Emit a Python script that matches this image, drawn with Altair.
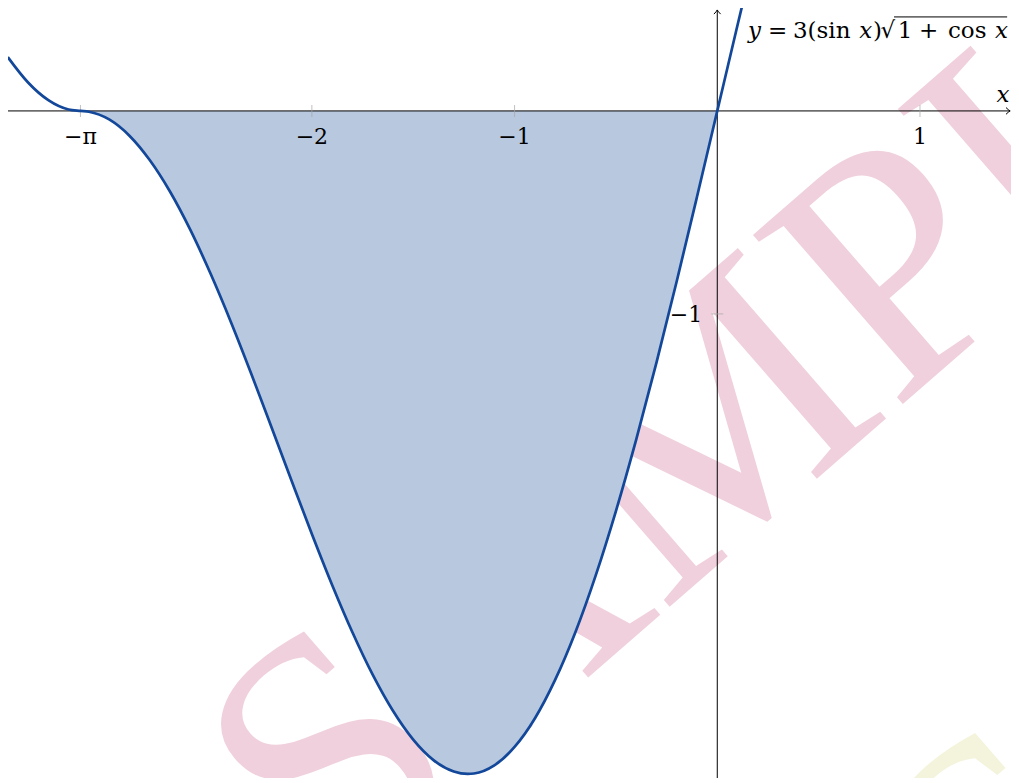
import altair as alt
import pandas as pd

# ---- curve values ----
curve_x = [-3.5, -3.4, -3.3, -3.2, -3.1416, -3.1, -3.0, -2.9, -2.8, -2.7, -2.6, -2.5, -2.4,
           -2.3, -2.2, -2.1, -2.0, -1.9, -1.8, -1.7, -1.6, -1.5, -1.4, -1.3, -1.231, -1.2,
           -1.1, -1.0, -0.9, -0.8, -0.7, -0.6, -0.5, -0.4, -0.3, -0.2, -0.1, 0.0, 0.1, 0.15]
curve_y = [0.265, 0.140, 0.053, 0.007, 0.0, -0.004, -0.042, -0.122, -0.242, -0.397, -0.585,
           -0.801, -1.038, -1.292, -1.556, -1.822, -2.084, -2.335, -2.568, -2.777, -2.955,
           -3.097, -3.198, -3.254, -3.266, -3.264, -3.224, -3.133, -2.993, -2.803, -2.568,
           -2.289, -1.971, -1.619, -1.240, -0.839, -0.423, 0.0, 0.423, 0.632]

# ---- axis ticks and labels ----
xtick_vals = [-3.1416, -2.0, -1.0, 1.0]
xtick_text = ["\u2212\u03c0", "\u22122", "\u22121", "1"]
ytick_vals = [-1.0]
ytick_text = ["\u22121"]

# ---- formula label pieces ----
lab_text = ["y", "=", "3(sin", "x", ")", "\u221a", "1", "+", "cos", "x"]
lab_x = [0.151, 0.250, 0.373, 0.700, 0.768, 0.805, 0.890, 0.995, 1.138, 1.370]
lab_italic = [True, False, False, True, False, False, False, False, False, True]

X_DOM = [-3.499, 1.449]
Y_DOM = [-3.286, 0.507]
W, H = 1003, 770
FONT = "DejaVu Serif"

xs = alt.Scale(domain=X_DOM, nice=False, zero=False)
ys = alt.Scale(domain=Y_DOM, nice=False, zero=False)

def X(f="x"):
    return alt.X(f, type="quantitative", scale=xs, axis=None)

def Y(f="y"):
    return alt.Y(f, type="quantitative", scale=ys, axis=None)

curve = pd.DataFrame({"x": curve_x, "y": curve_y})
area_df = curve[(curve.x >= -3.1416) & (curve.x <= 0.0)]

# watermark
wm = pd.DataFrame({"x": [0.62], "y": [-1.70], "t": ["SAMPLE"]})
wm2 = pd.DataFrame({"x": [1.395], "y": [-4.38], "t": ["SAMPLE"]})
water = alt.Chart(wm).mark_text(font="Liberation Serif", fontSize=345, angle=319,
                                align="center", baseline="alphabetic",
                                color="#f0d0dc").encode(x=X(), y=Y(), text="t:N")
water2 = alt.Chart(wm2).mark_text(font="Liberation Serif", fontSize=340, angle=319,
                                  align="left", baseline="alphabetic",
                                  color="#f4f4dc").encode(x=X(), y=Y(), text="t:N")

area = alt.Chart(area_df).mark_area(color="#b8c8df", interpolate="monotone").encode(
    x=X(), y=Y(), y2=alt.datum(0))

line = alt.Chart(curve).mark_line(color="#13479a", strokeWidth=2.7,
                                  interpolate="monotone", clip=True).encode(x=X(), y=Y())

axes_df = pd.DataFrame({"x": [X_DOM[0], 0.0], "x2": [1.443, 0.0],
                        "y": [0.0, Y_DOM[0]], "y2": [0.0, 0.497]})
axes = alt.Chart(axes_df).mark_rule(color="black", strokeWidth=1).encode(
    x=X(), x2="x2:Q", y=Y(), y2="y2:Q")

arrow_r = alt.Chart(pd.DataFrame({"x": [1.445], "y": [0.0]})).mark_point(
    shape="M -1 -0.8 Q -0.4 -0.2 0 0 Q -0.4 0.2 -1 0.8", filled=False,
    stroke="black", strokeWidth=1, size=70, opacity=1).encode(x=X(), y=Y())
arrow_u = alt.Chart(pd.DataFrame({"x": [0.0], "y": [0.4975]})).mark_point(
    shape="M -0.8 1 Q -0.2 0.4 0 0 Q 0.2 0.4 0.8 1", filled=False,
    stroke="black", strokeWidth=1, size=70, opacity=1).encode(x=X(), y=Y())

xt = pd.DataFrame({"x": xtick_vals, "t": xtick_text, "y": [0.0] * len(xtick_vals)})
yt = pd.DataFrame({"y": ytick_vals, "t": ytick_text, "x": [0.0] * len(ytick_vals)})

xticks = alt.Chart(xt).mark_tick(orient="vertical", size=12, thickness=1,
                                 color="#a6a6a6").encode(x=X(), y=Y())
yticks = alt.Chart(yt).mark_tick(orient="horizontal", size=12, thickness=1,
                                 color="#a6a6a6").encode(x=X(), y=Y())

xlabels = alt.Chart(xt).mark_text(font=FONT, fontSize=22, align="center",
                                  baseline="alphabetic", dy=33, color="black").encode(
    x=X(), y=Y(), text="t:N")
ylabels = alt.Chart(yt).mark_text(font=FONT, fontSize=22, align="right",
                                  baseline="alphabetic", dx=-15, dy=8, color="black").encode(
    x=X(), y=Y(), text="t:N")

xname = alt.Chart(pd.DataFrame({"x": [1.409], "y": [0.0], "t": ["x"]})).mark_text(
    font=FONT, fontSize=23, fontStyle="italic", align="center",
    baseline="alphabetic", dy=-9, color="black").encode(x=X(), y=Y(), text="t:N")

lab = pd.DataFrame({"x": lab_x, "t": lab_text, "it": lab_italic, "y": [0.360] * len(lab_x)})
lab_it = alt.Chart(lab[lab.it]).mark_text(font=FONT, fontSize=23,
                                          fontStyle="italic", align="left",
                                          baseline="alphabetic", color="black").encode(
    x=X(), y=Y(), text="t:N")
lab_rm = alt.Chart(lab[~lab.it]).mark_text(font=FONT, fontSize=23,
                                           align="left", baseline="alphabetic",
                                           color="black").encode(
    x=X(), y=Y(), text="t:N")
vinc = alt.Chart(pd.DataFrame({"x": [0.872], "x2": [1.430], "y": [0.463]})).mark_rule(
    color="black", strokeWidth=1).encode(x=X(), x2="x2:Q", y=Y())

chart = alt.layer(
    water, water2, area, axes, xticks, yticks, line, arrow_r, arrow_u,
    xlabels, ylabels, xname, lab_it, lab_rm, vinc
).properties(
    width=W, height=H, padding=0, autosize="none"
).configure_view(stroke=None)

chart.save("out.html", embed_options={"renderer": "svg", "actions": False})
